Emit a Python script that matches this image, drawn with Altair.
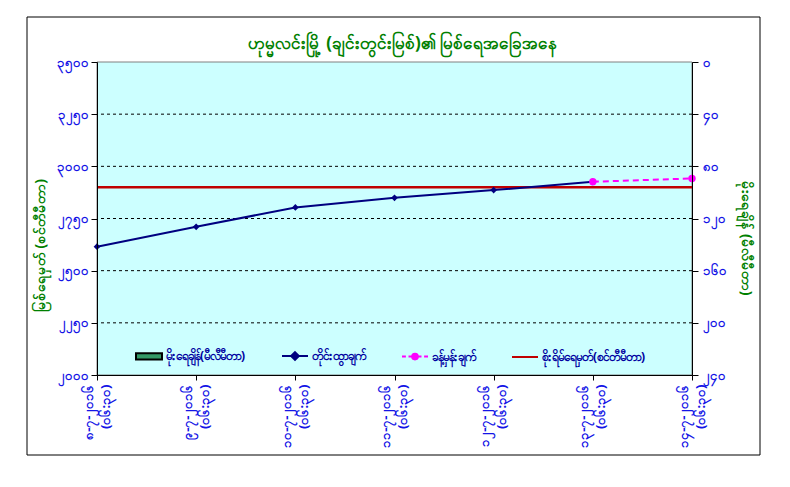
import altair as alt
import pandas as pd

# ---------------- data ----------------
title_text = "ဟုမ္မလင်းမြို့ (ချင်းတွင်းမြစ်)၏ မြစ်ရေအခြေအနေ"
dates = ["၈-၇-၂၀၁၆", "၉-၇-၂၀၁၆", "၁၀-၇-၂၀၁၆", "၁၁-၇-၂၀၁၆",
         "၁၂-၇-၂၀၁၆", "၁၃-၇-၂၀၁၆", "၁၄-၇-၂၀၁၆"]
time_label = "(၀၆:၃၀)"
observed_dates = dates[0:6]
observed = [2615, 2710, 2803, 2849, 2886, 2926]
forecast_dates = dates[5:7]
forecast = [2926, 2942]
danger_level = [2900]
rainfall = [0, 0, 0, 0, 0, 0, 0]

left_ticks = [2000, 2250, 2500, 2750, 3000, 3250, 3500]
left_labels = ["၂၀၀၀", "၂၂၅၀", "၂၅၀၀", "၂၇၅၀", "၃၀၀၀", "၃၂၅၀", "၃၅၀၀"]
right_ticks = [0, 40, 80, 120, 160, 200, 240]
right_labels = ["၀", "၄၀", "၈၀", "၁၂၀", "၁၆၀", "၂၀၀", "၂၄၀"]

left_title = "မြစ်ရေမှတ် (စင်တီမီတာ)"
right_title = "မိုးရေချိန် (မီလီမီတာ)"
legend_names = ["မိုးရေချိန်(မီလီမီတာ)", "တိုင်းထွာချက်",
                "ခန့်မှန်းချက်", "စိုးရိမ်ရေမှတ်(စင်တီမီတာ)"]

# ---------------- styles ----------------
FONT = "'Noto Sans', 'DejaVu Sans', sans-serif"
GREEN_T = "#008000"
BLUE = "#1414E6"
NAVY = "#000080"
MAGENTA = "#FF00FF"
RED = "#C00000"
RAIN = "#339966"
PLOT_BG = "#CCFFFF"

legend_paths = [
    "M-1,-0.24H1V0.24H-1Z",
    "M-1,0H1M0,-0.3L0.3,0L0,0.3L-0.3,0Z",
    "M-1,0H-0.7M-0.5,0H-0.25M0.25,0H0.5M0.7,0H1M0.22,0A0.22,0.22,0,1,1,-0.22,0A0.22,0.22,0,1,1,0.22,0Z",
    "M-1,0H1",
]
legend_fills = [RAIN, NAVY, MAGENTA, "transparent"]
legend_strokes = ["#000000", NAVY, MAGENTA, RED]


def label_expr(ticks, labels):
    parts = [f"datum.value == {t} ? '{l}'" for t, l in zip(ticks, labels)]
    return " : ".join(parts) + " : ''"


obs_df = pd.DataFrame({"date": observed_dates, "level": observed})
fc_df = pd.DataFrame({"date": forecast_dates, "level": forecast})
rain_df = pd.DataFrame({"date": dates, "rain": rainfall})
danger_df = pd.DataFrame({"level": danger_level})
grid_df = pd.DataFrame({"level": left_ticks[1:-1]})
bg_df = pd.DataFrame({"lo": [left_ticks[0]], "hi": [left_ticks[-1]]})
legend_df = pd.DataFrame({"series": legend_names})

x_scale = alt.Scale(type="point", domain=dates, padding=0)
x_axis = alt.Axis(
    title=None,
    labelExpr=f"[datum.label, '{time_label}']",
    labelAngle=270,
    labelAlign="right",
    labelBaseline="middle",
    labelColor=BLUE,
    labelFontSize=13,
    labelFontWeight="bold",
    labelFont=FONT,
    labelPadding=4,
    labelLineHeight=17,
    labelOffset=-9,
    tickSize=5,
    tickColor="black",
    domainColor="black",
    grid=False,
    zindex=1,
)


def xenc():
    return alt.X("date:N", scale=x_scale, axis=x_axis, sort=dates)


y_left_scale = alt.Scale(domain=[2000, 3500], nice=False, zero=False)
y_left_axis = alt.Axis(
    values=left_ticks,
    labelExpr=label_expr(left_ticks, left_labels),
    labelColor=BLUE,
    labelFontSize=13,
    labelFontWeight="bold",
    labelFont=FONT,
    labelPadding=3,
    tickSize=6,
    tickColor="black",
    domainColor="black",
    grid=False,
    zindex=1,
    title=left_title,
    titleColor=GREEN_T,
    titleFontSize=14,
    titleFontWeight="bold",
    titleFont=FONT,
    titleAngle=270,
    titleX=-57,
    titleY=183,
    titleAlign="center",
    titleBaseline="middle",
)

y_right_axis = alt.Axis(
    orient="right",
    values=right_ticks,
    labelExpr=label_expr(right_ticks, right_labels),
    labelColor=BLUE,
    labelFontSize=13,
    labelFontWeight="bold",
    labelFont=FONT,
    labelPadding=4,
    tickSize=6,
    tickColor="black",
    domainColor="black",
    grid=False,
    zindex=1,
    title=right_title,
    titleColor=GREEN_T,
    titleFontSize=14,
    titleFontWeight="bold",
    titleFont=FONT,
    titleAngle=90,
    titleX=53,
    titleY=176,
    titleAlign="center",
    titleBaseline="middle",
)

# frame round the whole chart (decoration)
frame = alt.Chart(alt.Data(values=[{"f": 1}])).mark_rect(
    filled=False, stroke="black", strokeWidth=1
).encode(
    x=alt.value(-70), x2=alt.value(663), y=alt.value(-45), y2=alt.value(393)
)

# plot-area background spanning the left scale's full domain
plot_bg = alt.Chart(bg_df).mark_rect(
    fill=PLOT_BG, stroke="#808080", strokeWidth=1
).encode(
    y=alt.Y("lo:Q", scale=y_left_scale, axis=y_left_axis),
    y2="hi:Q",
)

grid = alt.Chart(grid_df).mark_rule(
    color="black", strokeWidth=1, strokeDash=[3, 3]
).encode(y=alt.Y("level:Q", scale=y_left_scale, axis=y_left_axis))

rain = alt.Chart(rain_df).mark_bar(color=RAIN, size=14).encode(
    x=xenc(),
    y=alt.Y("rain:Q", scale=alt.Scale(domain=[0, 240], reverse=True, nice=False),
            axis=y_right_axis),
)

danger = alt.Chart(danger_df).mark_rule(color=RED, strokeWidth=2.5).encode(
    y=alt.Y("level:Q", scale=y_left_scale, axis=y_left_axis)
)

obs_line = alt.Chart(obs_df).mark_line(color=NAVY, strokeWidth=2).encode(
    x=xenc(), y=alt.Y("level:Q", scale=y_left_scale, axis=y_left_axis)
)
obs_pts = alt.Chart(obs_df).mark_point(
    shape="diamond", filled=True, color=NAVY, size=45, opacity=1
).encode(x=xenc(), y=alt.Y("level:Q", scale=y_left_scale, axis=y_left_axis))

fc_line = alt.Chart(fc_df).mark_line(
    color=MAGENTA, strokeWidth=2, strokeDash=[6, 4]
).encode(x=xenc(), y=alt.Y("level:Q", scale=y_left_scale, axis=y_left_axis))
fc_pts = alt.Chart(fc_df).mark_point(
    shape="circle", filled=True, color=MAGENTA, size=55, opacity=1
).encode(x=xenc(), y=alt.Y("level:Q", scale=y_left_scale, axis=y_left_axis))

leg_props = dict(
    orient="none",
    legendX=38,
    legendY=280,
    direction="horizontal",
    title=None,
    symbolSize=676,
    symbolStrokeWidth=2,
    symbolOpacity=1,
    labelColor="#0000A0",
    labelFontSize=12,
    labelFontWeight="bold",
    labelFont=FONT,
    labelLimit=300,
    labelOffset=3,
    columnPadding=32,
)
legend_layer = alt.Chart(legend_df).mark_point(filled=True, opacity=0).encode(
    shape=alt.Shape("series:N", scale=alt.Scale(domain=legend_names, range=legend_paths),
                    legend=alt.Legend(**leg_props)),
    fill=alt.Fill("series:N", scale=alt.Scale(domain=legend_names, range=legend_fills),
                  legend=alt.Legend(**leg_props)),
    stroke=alt.Stroke("series:N", scale=alt.Scale(domain=legend_names, range=legend_strokes),
                      legend=alt.Legend(**leg_props)),
)

left_group = alt.layer(frame, plot_bg, grid, danger, obs_line, obs_pts,
                       fc_line, fc_pts, legend_layer)

chart = alt.layer(rain, left_group).resolve_scale(y="independent").properties(
    width=595,
    height=313,
    autosize=alt.AutoSizeParams(type="none"),
    padding={"left": 89, "top": 54, "right": 90, "bottom": 108},
    background="white",
    title=alt.TitleParams(
        title_text, color=GREEN_T, fontSize=17, fontWeight="bold", font=FONT,
        offset=-36, dx=8, anchor="middle",
    ),
).configure_view(
    fill=PLOT_BG, stroke="#808080", strokeWidth=1
)

chart.save("out.html", embed_options={"renderer": "svg", "actions": False})
